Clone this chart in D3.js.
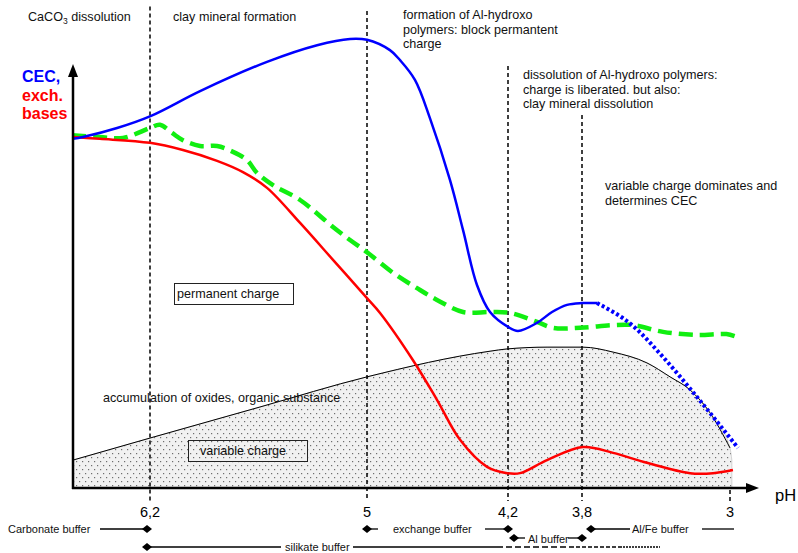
<!DOCTYPE html>
<html><head><meta charset="utf-8">
<script src="https://cdn.jsdelivr.net/npm/d3@7"></script>
<style>body{margin:0;background:#fff}svg{display:block;font-family:"Liberation Sans",Arial,sans-serif}</style>
</head><body>
<svg id="c" width="798" height="553"></svg>
<script>
// ---- data ----
const tickPH = [6.2, 5, 4.2, 3.8, 3];
const tickLabels = ["6,2", "5", "4,2", "3,8", "3"];
const dividerTop = [107, 106, 93.8, 82.9, 0]; // value units where divider starts
// CEC (blue)
const cecPH  = [6.626,6.571,6.382,6.194,5.923,5.553,5.276,5.094,5.0,4.870,4.813,4.728,4.643,4.529,4.455,4.376,4.302,4.2,4.146,4.043,3.962,3.881,3.8,3.719];
const cecVal = [77.6,78.0,80.0,82.7,88.2,94.7,98.4,99.8,99.6,97.3,95.1,90.7,82.2,68.4,57.3,45.1,39.1,35.8,34.9,36.7,39.1,40.7,41.1,41.1];
const cecDotPH  = [3.719,3.524,3.362,3.178,2.957];
const cecDotVal = [41.1,36.0,29.1,20.2,8.9];
// exchangeable bases (red)
const basesPH  = [6.626,6.477,6.2,6.018,5.829,5.686,5.553,5.370,5.188,5.0,4.926,4.739,4.603,4.472,4.319,4.205,4.135,3.989,3.795,3.632,3.449,3.216,3.092,2.984];
const basesVal = [78.0,77.6,76.7,75.1,72.7,70.2,66.7,58.9,50.7,42.2,38.9,28.4,19.6,10.7,4.7,3.3,3.3,6.2,9.1,7.8,5.6,3.3,3.3,4.0];
// green dashed
const greenPH  = [6.631,6.477,6.349,6.2,6.145,6.078,6.018,5.923,5.829,5.741,5.664,5.608,5.520,5.370,5.188,5.094,5.0,4.852,4.716,4.603,4.455,4.302,4.189,4.043,3.957,3.811,3.632,3.524,3.362,3.178,3.019,2.965];
const greenVal = [78.4,78.0,77.8,80.0,80.7,78.9,77.3,76.0,76.0,74.7,72.9,70.0,67.3,64.0,58.0,55.1,52.4,47.8,44.4,41.8,39.1,39.1,38.9,36.9,35.6,35.6,36.2,36.2,34.7,34.0,34.2,33.6];
// variable charge
const varPH  = [6.626,6.2,5.592,5.0,4.302,4.206,3.989,3.795,3.632,3.449,3.324,3.216,3.108,3.0];
const varVal = [6.2,11.1,18.0,24.7,30.4,30.9,31.3,31.3,30.2,27.8,24.7,21.8,16.7,8.9];
// buffers
const bufferNames = ["Carbonate buffer","exchange buffer","Al buffer","Al/Fe buffer","silikate buffer"];

// ---- scales ----
const svg = d3.select("#c");
const x = d3.scaleLinear().domain(tickPH).range([150, 367, 508, 582, 730]);
const y = d3.scaleLinear().domain([0, 100]).range([488, 38]);
const xL = 73, yB = 488;

// pattern
const defs = svg.append("defs");
const pat = defs.append("pattern").attr("id","dots").attr("patternUnits","userSpaceOnUse")
  .attr("width",6).attr("height",8);
pat.append("rect").attr("width",6).attr("height",8).attr("fill","#f1f1f1");
pat.append("rect").attr("x",1).attr("y",1).attr("width",1.2).attr("height",1.2).attr("fill","#6e6e6e");
pat.append("rect").attr("x",4).attr("y",5).attr("width",1.2).attr("height",1.2).attr("fill","#6e6e6e");

const zip = (a,b)=>a.map((v,i)=>[v,b[i]]);
const varData = zip(varPH, varVal);
const area = d3.area().x(d=>x(d[0])).y0(yB).y1(d=>y(d[1])).curve(d3.curveMonotoneX);
svg.append("path").datum(varData.concat([[2.99, 6.2]])).attr("d", area)
  .attr("fill","url(#dots)").attr("stroke","#bbb").attr("stroke-width",0.6);
const line = d3.line().x(d=>x(d[0])).y(d=>y(d[1])).curve(d3.curveMonotoneX);
svg.append("path").datum(varData).attr("d", line).attr("fill","none").attr("stroke","#000").attr("stroke-width",1);

// dividers
tickPH.forEach((p,i)=>{
  const top = i===4 ? yB+2 : y(dividerTop[i]);
  svg.append("line").attr("x1",x(p)).attr("x2",x(p)).attr("y1",top).attr("y2",501)
    .attr("stroke","#000").attr("stroke-width",1.5).attr("stroke-dasharray","4,3");
});

// curves
const lineC = d3.line().x(d=>x(d[0])).y(d=>y(d[1])).curve(d3.curveCatmullRom.alpha(0.5));
svg.append("path").datum(zip(greenPH,greenVal)).attr("d",lineC).attr("fill","none")
  .attr("stroke","#11ee11").attr("stroke-width",4.5).attr("stroke-dasharray","14,7");
svg.append("path").datum(zip(basesPH,basesVal)).attr("d",lineC).attr("fill","none")
  .attr("stroke","#ff0000").attr("stroke-width",2.5);
svg.append("path").datum(zip(cecPH,cecVal)).attr("d",lineC).attr("fill","none")
  .attr("stroke","#0000ff").attr("stroke-width",2.5);
svg.append("path").datum(zip(cecDotPH,cecDotVal)).attr("d",d3.line().x(d=>x(d[0])).y(d=>y(d[1])).curve(d3.curveMonotoneX))
  .attr("fill","none").attr("stroke","#0000ff").attr("stroke-width",4).attr("stroke-dasharray","3,2.5");

// axes with arrows
svg.append("line").attr("x1",xL).attr("x2",xL).attr("y1",yB+1).attr("y2",74).attr("stroke","#000").attr("stroke-width",2.5);
svg.append("path").attr("d",`M${xL},64L${xL-5},77L${xL+5},77Z`).attr("fill","#000");
svg.append("line").attr("x1",xL-1).attr("x2",748).attr("y1",yB).attr("y2",yB).attr("stroke","#000").attr("stroke-width",2.5);
svg.append("path").attr("d",`M759,${yB}L746,${yB-5}L746,${yB+5}Z`).attr("fill","#000");

// tick labels
svg.selectAll(".tl").data(tickPH).enter().append("text").attr("class","tl")
  .attr("x",d=>x(d)).attr("y",517).attr("text-anchor","middle").attr("font-size",14.5)
  .text((d,i)=>tickLabels[i]);
svg.append("text").attr("x",775).attr("y",501).attr("font-size",16.5).text("pH");

// y-axis label
const yl = svg.append("g").attr("font-weight","bold").attr("font-size",16);
yl.append("text").attr("x",22).attr("y",82).attr("fill","#0000ff").text("CEC,");
yl.append("text").attr("x",22).attr("y",101).attr("fill","#ff0000").text("exch.");
yl.append("text").attr("x",22).attr("y",119).attr("fill","#ff0000").text("bases");

// annotations
const ann = svg.append("g").attr("font-size",12.6).attr("fill","#111");
const t0 = ann.append("text").attr("x",28).attr("y",21);
t0.append("tspan").text("CaCO");
t0.append("tspan").attr("font-size",8.5).attr("dy",3).text("3");
t0.append("tspan").attr("dy",-3).text(" dissolution");
ann.append("text").attr("x",173).attr("y",21).text("clay mineral formation");
[["formation of Al-hydroxo",19],["polymers: block permantent",33.5],["charge",48]].forEach(([s,yy])=>
  ann.append("text").attr("x",403).attr("y",yy).text(s));
[["dissolution of Al-hydroxo polymers:",79],["charge is liberated. but also:",94],["clay mineral dissolution",108]].forEach(([s,yy])=>
  ann.append("text").attr("x",523).attr("y",yy).text(s));
[["variable charge dominates and",190],["determines CEC",205]].forEach(([s,yy])=>
  ann.append("text").attr("x",605).attr("y",yy).text(s));
ann.append("rect").attr("x",174.5).attr("y",283.5).attr("width",119).attr("height",21).attr("fill","none").attr("stroke","#222").attr("stroke-width",1);
ann.append("text").attr("x",177).attr("y",298).text("permanent charge");
ann.append("text").attr("x",103).attr("y",402).text("accumulation of oxides, organic substance");
ann.append("rect").attr("x",188.5).attr("y",440.5).attr("width",119).attr("height",21).attr("fill","none").attr("stroke","#222").attr("stroke-width",1);
ann.append("text").attr("x",200).attr("y",455).text("variable charge");

// buffers
const bf = svg.append("g").attr("font-size",11).attr("fill","#111");
const dia = (cx,cy)=>bf.append("path").attr("d",`M${cx-5},${cy}L${cx},${cy-4}L${cx+5},${cy}L${cx},${cy+4}Z`).attr("fill","#000");
const hl = (x1,x2,yy,dash)=>bf.append("line").attr("x1",x1).attr("x2",x2).attr("y1",yy).attr("y2",yy).attr("stroke","#000").attr("stroke-width",1.3).attr("stroke-dasharray",dash||null);
// row 1
bf.append("text").attr("x",8).attr("y",533).text(bufferNames[0]);
hl(100, x(6.2)-3, 529); dia(x(6.2)-3, 529);
dia(x(5), 529); hl(x(5), x(5)+11, 529);
bf.append("text").attr("x",393).attr("y",533).text(bufferNames[1]);
hl(485, x(4.2), 529); dia(x(4.2), 529);
dia(x(3.8)+9, 529); hl(x(3.8)+9, 630, 529);
bf.append("text").attr("x",632).attr("y",533).text(bufferNames[3]);
hl(702, 734, 529);
// row 2
dia(x(4.2)+6, 538); hl(x(4.2)+6, 525, 538);
bf.append("text").attr("x",528).attr("y",543).text(bufferNames[2]);
hl(568, x(3.8), 538); dia(x(3.8), 538);
// row 3
dia(x(6.2)-3, 547); hl(x(6.2)-3, 281, 547);
bf.append("text").attr("x",285).attr("y",551).text(bufferNames[4]);
hl(353, 497, 547);
hl(497, 570, 547, "6,3");
hl(570, 620, 547, "4,2");
hl(620, 660, 547, "2,1");
</script>
</body></html>
